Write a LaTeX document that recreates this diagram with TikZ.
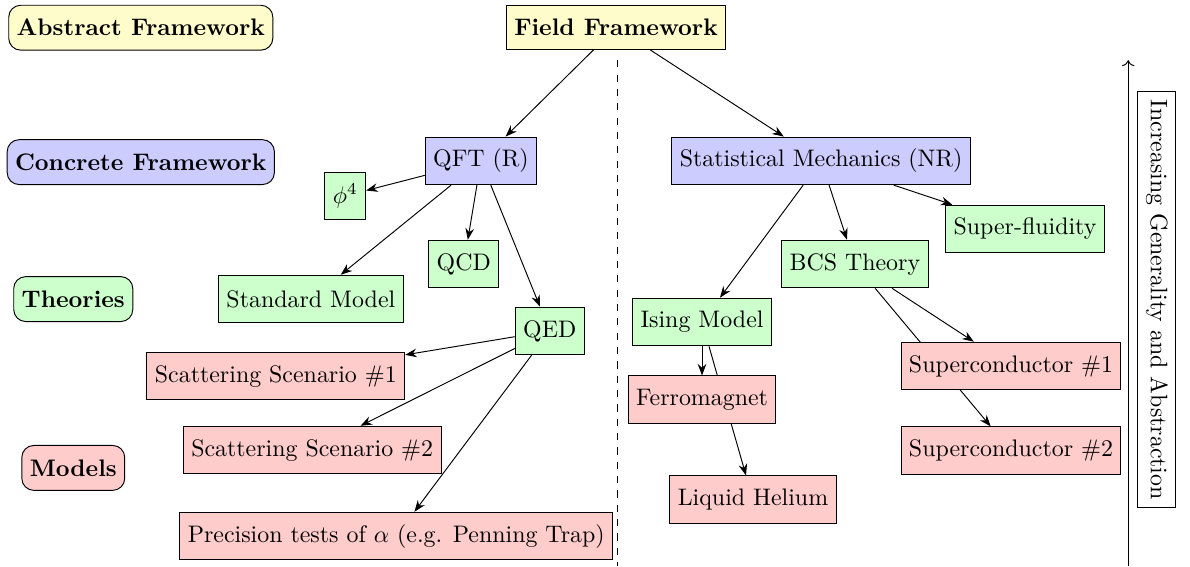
\documentclass[tikz,border=0pt]{standalone}
\usepackage{amsmath,amssymb}
\usetikzlibrary{arrows.meta,backgrounds}

\begin{document}
\begin{tikzpicture}[x=0.9368cm,y=0.9368cm,>=Stealth,
  box/.style={draw,minimum height=0.7cm},
  level/.style={box,rounded corners=5pt,font=\bfseries,minimum height=0.66cm},
  abstr/.style={fill=yellow!20},
  concr/.style={fill=blue!20},
  theory/.style={fill=green!20},
  model/.style={fill=red!20}]
\useasboundingbox (0,0) rectangle (18.68,8.885);
% levels on the left
\node[level,abstr] (abs) at (2.21,8.45) {Abstract Framework};
\node[level,concr] (conc) at (2.21,6.34) {Concrete Framework};
\node[level,theory] (theo) at (1.15,4.19) {Theories};
\node[level,model] (mod) at (1.15,1.54) {Models};
% tree
\node[box,abstr,font=\bfseries,minimum height=0.64cm] (field) at (9.67,8.45) {Field Framework};
\node[box,concr] (qft) at (7.55,6.36) {QFT (R)};
\node[box,concr] (stat) at (12.89,6.36) {Statistical Mechanics (NR)};
\node[box,theory] (phi) at (5.42,5.81) {$\phi^4$};
\node[box,theory] (qcd) at (7.28,4.74) {QCD};
\node[box,theory] (sm) at (4.88,4.19) {Standard Model};
\node[box,theory] (qed) at (8.63,3.69) {QED};
\node[box,theory] (sfl) at (16.09,5.29) {Super-fluidity};
\node[box,theory] (bcs) at (13.42,4.74) {BCS Theory};
\node[box,theory] (ising) at (11.02,3.83) {Ising Model};
\node[box,model] (scat1) at (4.33,2.98) {Scattering Scenario \#1};
\node[box,model] (scat2) at (4.90,1.82) {Scattering Scenario \#2};
\node[box,model] (prec) at (6.22,0.47) {Precision tests of $\alpha$ (e.g. Penning Trap)};
\node[box,model] (ferro) at (11.02,2.61) {Ferromagnet};
\node[box,model] (lhe) at (11.82,1.04) {Liquid Helium};
\node[box,model] (sc1) at (15.87,3.14) {Superconductor \#1};
\node[box,model] (sc2) at (15.87,1.81) {Superconductor \#2};
% axis
\coordinate (divtop) at (9.69,7.94);
\coordinate (divbot) at (9.69,0);
\coordinate (axbot) at (17.71,0);
\coordinate (axtop) at (17.71,7.94);
\node[draw,rotate=-90] (axlab) at (18.16,4.18) {Increasing Generality and Abstraction};
\begin{scope}[on background layer]
\draw[->] (field) -- (qft);
\draw[->] (field) -- (stat);
\draw[->] (qft) -- (phi);
\draw[->] (qft) -- (sm);
\draw[->] (qft) -- (qcd);
\draw[->] (qft) -- (qed);
\draw[->] (stat) -- (ising);
\draw[->] (stat) -- (bcs);
\draw[->] (stat) -- (sfl);
\draw[->] (qed) -- (scat1);
\draw[->] (qed) -- (scat2);
\draw[->] (qed) -- (prec);
\draw[->] (ising) -- (ferro);
\draw[->] (ising) -- (lhe);
\draw[->] (bcs) -- (sc1);
\draw[->] (bcs) -- (sc2);
\end{scope}
\draw[dashed] (divtop) -- (divbot);
\draw[-{To}] (axbot) -- (axtop);
\end{tikzpicture}
\end{document}
